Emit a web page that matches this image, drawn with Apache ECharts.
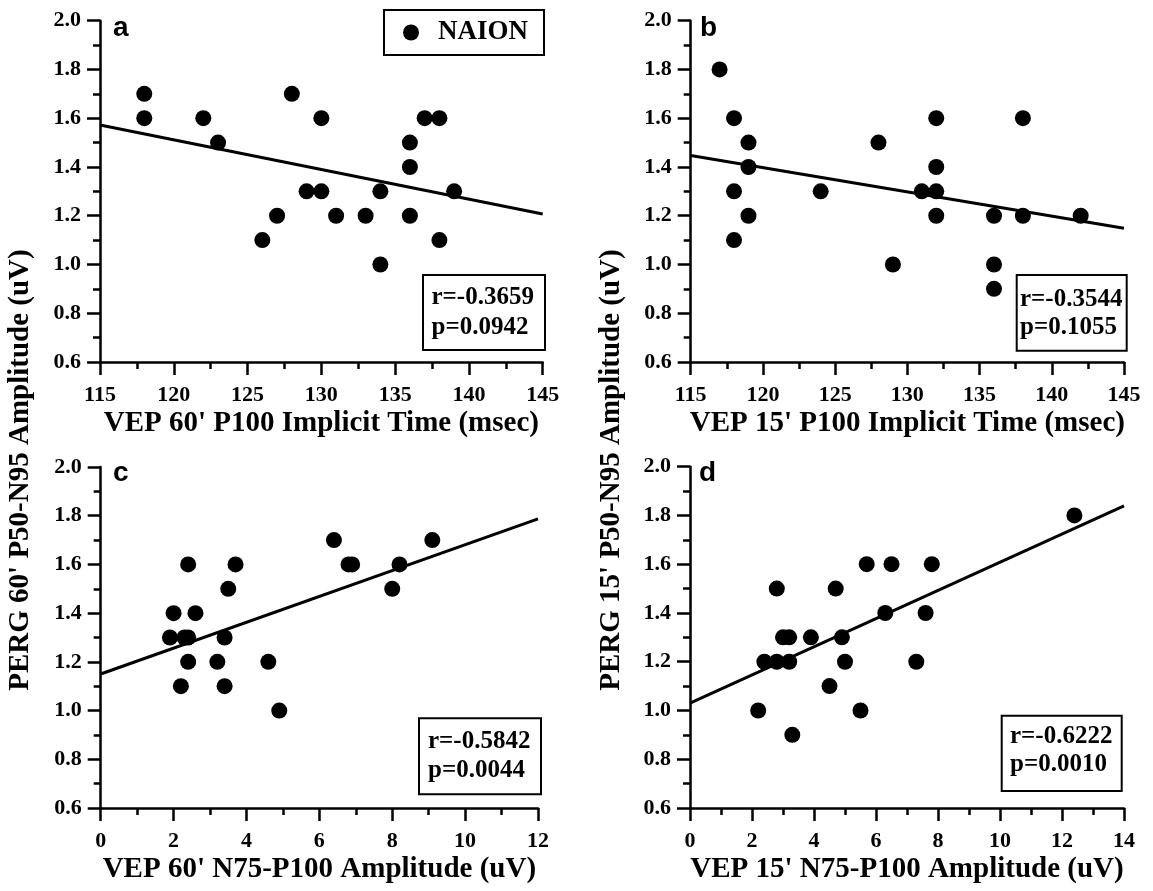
<!DOCTYPE html>
<html><head><meta charset="utf-8">
<script src="https://cdn.jsdelivr.net/npm/echarts@6/dist/echarts.min.js"></script>
<style>html,body{margin:0;padding:0;background:#fff}#c{width:1153px;height:891px}</style>
</head><body><div id="c"></div>
<script>
const seriesName = 'NAION';

// Panel a: VEP 60' P100 implicit time vs PERG 60' amplitude
const aX = [118,118,122,123,126,127,128,129,130,130,131,133,134,134,136,136,136,137,138,138,139];
const aY = [1.7,1.6,1.6,1.5,1.1,1.2,1.7,1.3,1.3,1.6,1.2,1.2,1.3,1.0,1.5,1.4,1.2,1.6,1.6,1.1,1.3];
const aFitX = [115, 145];
const aFitY = [1.572, 1.207];
const aStats = ['r=-0.3659', 'p=0.0942'];

// Panel b: VEP 15' P100 implicit time vs PERG 15' amplitude
const bX = [117,118,118,118,119,119,119,124,128,129,131,132,132,132,132,136,136,136,138,138,142];
const bY = [1.8,1.6,1.3,1.1,1.5,1.4,1.2,1.3,1.5,1.0,1.3,1.6,1.4,1.3,1.2,1.2,1.0,0.9,1.6,1.2,1.2];
const bFitX = [115, 145];
const bFitY = [1.447, 1.149];
const bStats = ['r=-0.3544', 'p=0.1055'];

// Panel c: VEP 60' N75-P100 amplitude vs PERG 60' amplitude
const cX = [6.4,9.1,2.4,3.7,6.8,6.9,8.2,3.5,8.0,2.0,2.6,1.9,2.3,2.4,3.4,2.4,3.2,4.6,2.2,3.4,4.9];
const cY = [1.7,1.7,1.6,1.6,1.6,1.6,1.6,1.5,1.5,1.4,1.4,1.3,1.3,1.3,1.3,1.2,1.2,1.2,1.1,1.1,1.0];
const cFitX = [0, 12];
const cFitY = [1.15, 1.787];
const cStats = ['r=-0.5842', 'p=0.0044'];

// Panel d: VEP 15' N75-P100 amplitude vs PERG 15' amplitude
const dX = [12.4,5.7,6.5,7.8,2.8,4.7,6.3,7.6,3.0,3.2,3.9,4.9,2.4,2.8,3.2,5.0,7.3,4.5,2.2,5.5,3.3];
const dY = [1.8,1.6,1.6,1.6,1.5,1.5,1.4,1.4,1.3,1.3,1.3,1.3,1.2,1.2,1.2,1.2,1.2,1.1,1.0,1.0,0.9];
const dFitX = [0, 14];
const dFitY = [1.03, 1.839];
const dStats = ['r=-0.6222', 'p=0.0010'];

// Axis settings
const yRange = [0.6, 2.0, 0.2];
const xRanges = [[115,145,5],[115,145,5],[0,12,2],[0,14,2]];
const xTitles = ["VEP 60' P100 Implicit Time (msec)", "VEP 15' P100 Implicit Time (msec)",
                 "VEP 60' N75-P100 Amplitude (uV)", "VEP 15' N75-P100 Amplitude (uV)"];
const yTitles = ["PERG 60' P50-N95 Amplitude (uV)", "PERG 15' P50-N95 Amplitude (uV)"];
const panelLetters = ['a','b','c','d'];

const zip = (xs, ys) => xs.map((x, i) => [x, ys[i]]);
const panels = [
  {pts: zip(aX, aY), fit: zip(aFitX, aFitY), stats: aStats},
  {pts: zip(bX, bY), fit: zip(bFitX, bFitY), stats: bStats},
  {pts: zip(cX, cY), fit: zip(cFitX, cFitY), stats: cStats},
  {pts: zip(dX, dY), fit: zip(dFitX, dFitY), stats: dStats}
];

const SERIF = "'Liberation Serif', 'Times New Roman', serif";
const SANS = "'Liberation Sans', Arial, sans-serif";
const grids = [
  {left: 100, top: 20.7, width: 442.7, height: 341.3},
  {left: 690.7, top: 20.7, width: 433.3, height: 341.3},
  {left: 100.7, top: 467, width: 437.3, height: 341},
  {left: 690, top: 466.7, width: 434, height: 341.3}
];
const axisCommon = {
  axisLine: {show: true, onZero: false, lineStyle: {color: '#000', width: 2.5}},
  axisTick: {show: true, inside: false, length: 13, lineStyle: {color: '#000', width: 2.5}},
  minorTick: {show: true, splitNumber: 2, length: 7, lineStyle: {color: '#000', width: 2.5}},
  splitLine: {show: false},
  minorSplitLine: {show: false}
};

const xAxes = xRanges.map((r, i) => Object.assign({}, axisCommon, {
  type: 'value', gridIndex: i, min: r[0], max: r[1], interval: r[2],
  name: xTitles[i], nameLocation: 'middle', nameGap: 47,
  nameTextStyle: {fontFamily: SERIF, fontWeight: 'bold', fontSize: 29, color: '#000'},
  axisLabel: {margin: 22, fontFamily: SERIF, fontWeight: 'bold', fontSize: 22, color: '#000'}
}));
const yAxes = grids.map((g, i) => Object.assign({}, axisCommon, {
  type: 'value', gridIndex: i, min: yRange[0], max: yRange[1], interval: yRange[2],
  axisLabel: {margin: 19, fontFamily: SERIF, fontWeight: 'bold', fontSize: 22, color: '#000',
    formatter: v => v.toFixed(1)}
}));

const series = [];
panels.forEach((p, i) => {
  series.push({
    name: seriesName, type: 'scatter', xAxisIndex: i, yAxisIndex: i,
    data: p.pts, symbol: 'circle', symbolSize: 16,
    itemStyle: {color: '#000', opacity: 1}, z: 3
  });
  series.push({
    name: 'fit' + i, type: 'line', xAxisIndex: i, yAxisIndex: i,
    data: p.fit, showSymbol: false, symbol: 'none',
    lineStyle: {color: '#000', width: 3}, z: 2
  });
});

// stats boxes and panel letters
const statBoxes = [
  {x: 423, y: 275, w: 122, h: 75, tx: 431.5, l1: 298, l2: 328},
  {x: 1016.7, y: 275, w: 110, h: 75.7, tx: 1020, l1: 300, l2: 328},
  {x: 419, y: 718.3, w: 122, h: 76, tx: 428, l1: 741.7, l2: 770.7},
  {x: 1001.7, y: 715.7, w: 120, h: 75.3, tx: 1010, l1: 736.7, l2: 765}
];
const letterPos = [[113, 28], [700, 28], [113, 473], [699, 473]];
const graphics = [];
panels.forEach((p, i) => {
  const b = statBoxes[i];
  graphics.push({type: 'rect', shape: {x: b.x, y: b.y, width: b.w, height: b.h},
    style: {fill: '#fff', stroke: '#000', lineWidth: 2}, z: 10});
  graphics.push({type: 'text', x: b.tx, y: b.l1, z: 11,
    style: {text: p.stats[0], font: 'bold 25px ' + SERIF, fill: '#000', align: 'left', verticalAlign: 'middle'}});
  graphics.push({type: 'text', x: b.tx, y: b.l2, z: 11,
    style: {text: p.stats[1], font: 'bold 25px ' + SERIF, fill: '#000', align: 'left', verticalAlign: 'middle'}});
  graphics.push({type: 'text', x: letterPos[i][0], y: letterPos[i][1], z: 11,
    style: {text: panelLetters[i], font: 'bold 28px ' + SANS, fill: '#000', align: 'left', verticalAlign: 'middle'}});
});
graphics.push({type: 'text', x: 21, y: 470, rotation: Math.PI / 2, z: 11,
  style: {text: yTitles[0], font: 'bold 29px ' + SERIF, fill: '#000', align: 'center', verticalAlign: 'middle'}});
graphics.push({type: 'text', x: 612, y: 470, rotation: Math.PI / 2, z: 11,
  style: {text: yTitles[1], font: 'bold 29px ' + SERIF, fill: '#000', align: 'center', verticalAlign: 'middle'}});

const chart = echarts.init(document.getElementById('c'), null, {renderer: 'canvas'});
chart.setOption({
  animation: false,
  backgroundColor: '#fff',
  grid: grids,
  xAxis: xAxes,
  yAxis: yAxes,
  legend: {
    data: [seriesName], left: 384, top: 10,
    padding: [9, 16, 9, 19], itemWidth: 44, itemHeight: 16,
    borderColor: '#000', borderWidth: 2, backgroundColor: '#fff',
    icon: 'circle',
    itemStyle: {color: '#000', opacity: 1},
    textStyle: {fontFamily: SERIF, fontWeight: 'bold', fontSize: 27, color: '#000'},
    selectedMode: false
  },
  series: series,
  graphic: graphics
});
</script></body></html>
